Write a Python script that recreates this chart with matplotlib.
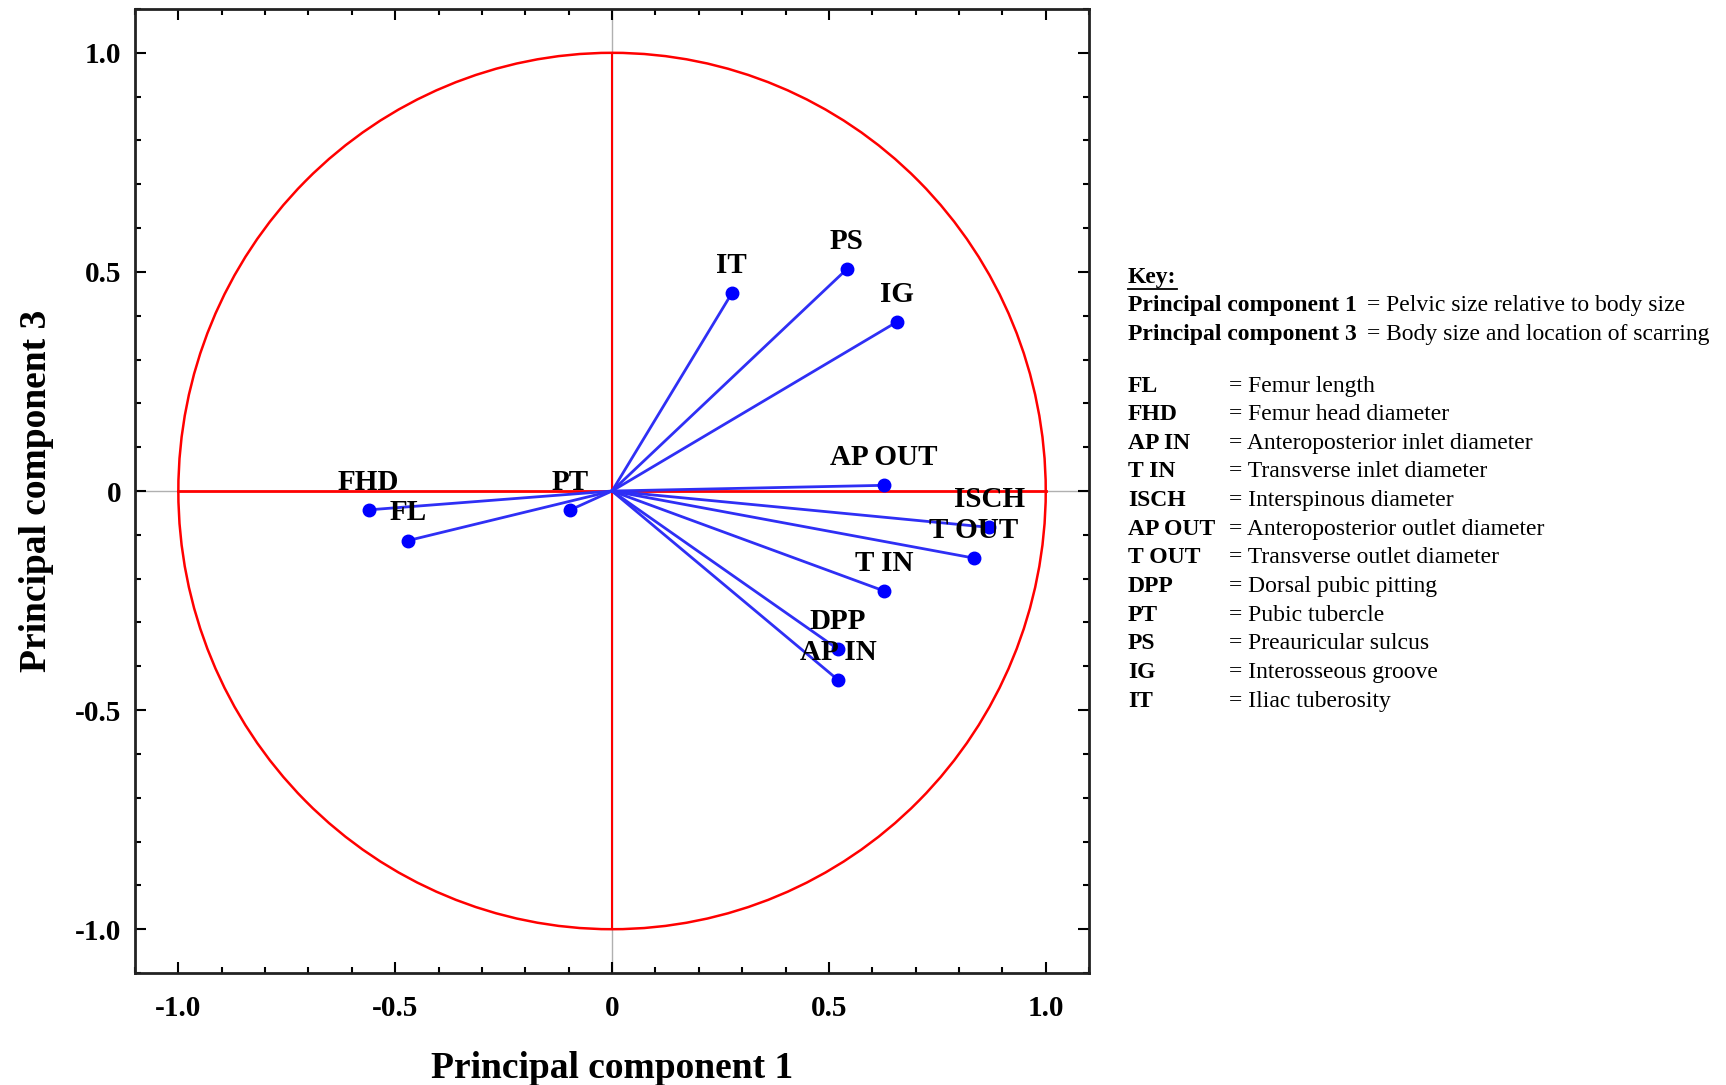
import matplotlib
matplotlib.use("Agg")
import matplotlib.pyplot as plt
from matplotlib.patches import Circle
from matplotlib.ticker import MultipleLocator, FixedLocator, FixedFormatter

plt.rcParams['font.family'] = ['Liberation Serif', 'DejaVu Serif']

names = ['IT', 'PS', 'IG', 'AP OUT', 'ISCH', 'T OUT', 'T IN', 'DPP', 'AP IN', 'FHD', 'FL', 'PT']
pc1 = [0.276, 0.541, 0.657, 0.627, 0.870, 0.834, 0.627, 0.521, 0.521, -0.561, -0.470, -0.096]
pc3 = [0.451, 0.506, 0.386, 0.013, -0.083, -0.153, -0.228, -0.361, -0.431, -0.043, -0.113, -0.043]

tick_vals = [-1.0, -0.5, 0, 0.5, 1.0]
tick_text = ['-1.0', '-0.5', '0', '0.5', '1.0']

key_abbr = ['FL', 'FHD', 'AP IN', 'T IN', 'ISCH', 'AP OUT', 'T OUT', 'DPP', 'PT', 'PS', 'IG', 'IT']
key_desc = ['Femur length', 'Femur head diameter', 'Anteroposterior inlet diameter',
            'Transverse inlet diameter', 'Interspinous diameter', 'Anteroposterior outlet diameter',
            'Transverse outlet diameter', 'Dorsal pubic pitting', 'Pubic tubercle',
            'Preauricular sulcus', 'Interosseous groove', 'Iliac tuberosity']
pc_names = ['Principal component 1', 'Principal component 3']
pc_desc = ['Pelvic size relative to body size', 'Body size and location of scarring']

fig = plt.figure(figsize=(17.26, 10.85), dpi=100)
ax = fig.add_axes([0.0782, 0.1032, 0.5528, 0.8885])

# reference axes
ax.axhline(0, color='#b0b0b0', lw=1, zorder=1)
ax.axvline(0, color='#b0b0b0', lw=1, zorder=1)
ax.plot([-1, 1], [0, 0], color='red', lw=2, zorder=2)
ax.plot([0, 0], [-1, 1], color='red', lw=1.5, zorder=2)
ax.add_patch(Circle((0, 0), 1, fill=False, color='red', lw=1.8, zorder=2))

for n, x, y in zip(names, pc1, pc3):
    ax.plot([0, x], [0, y], color='#2f2ff5', lw=2, zorder=3)
    ax.plot(x, y, 'o', color='#0000ff', ms=9, zorder=4)
    ax.annotate(n, (x, y), xytext=(0, 20), textcoords='offset points',
                ha='center', va='center', fontsize=21, fontweight='bold', zorder=5)

ax.set_xlim(-1.1, 1.1)
ax.set_ylim(-1.1, 1.1)
for axis in (ax.xaxis, ax.yaxis):
    axis.set_major_locator(FixedLocator(tick_vals))
    axis.set_major_formatter(FixedFormatter(tick_text))
    axis.set_minor_locator(MultipleLocator(0.1))
ax.tick_params(which='both', direction='in', top=True, right=True, width=1.5)
ax.tick_params(which='major', length=8, labelsize=21)
ax.tick_params(axis='x', which='major', pad=16)
ax.tick_params(axis='y', which='major', pad=10)
ax.tick_params(which='minor', length=4)
for lab in ax.get_xticklabels() + ax.get_yticklabels():
    lab.set_fontweight('bold')
for s in ax.spines.values():
    s.set_linewidth(2)
    s.set_color('#222222')

ax.set_xlabel('Principal component 1', fontsize=27, fontweight='bold', labelpad=21)
ax.set_ylabel('Principal component 3', fontsize=27, fontweight='bold', labelpad=15)

# key
kx = 0.6535
ky = 0.7445
dy = 0.0264
fs = 17
t = fig.text(kx, ky, 'Key:', fontsize=fs, fontweight='bold', va='center')
fig.lines.append(plt.Line2D([kx, kx + 0.0285], [ky - 0.0105, ky - 0.0105],
                            transform=fig.transFigure, color='black', lw=1.3))
for i, (p, d) in enumerate(zip(pc_names, pc_desc)):
    yy = ky - dy * (i + 1)
    fig.text(kx, yy, p, fontsize=fs, fontweight='bold', va='center')
    fig.text(kx + 0.1385, yy, '= ' + d, fontsize=fs, va='center')
for i, (a, d) in enumerate(zip(key_abbr, key_desc)):
    yy = ky - dy * (i + 3.8)
    fig.text(kx, yy, a, fontsize=fs, fontweight='bold', va='center')
    fig.text(0.7122, yy, '= ' + d, fontsize=fs, va='center')

fig.savefig('out.png', dpi=100)
